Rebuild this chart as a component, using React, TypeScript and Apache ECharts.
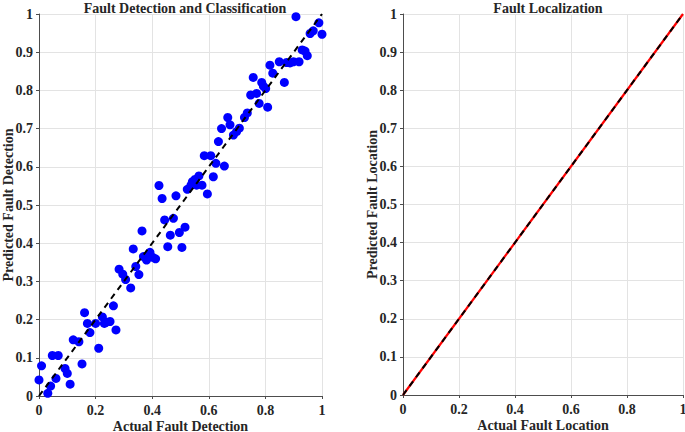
import React, { useEffect, useRef } from "react";
import * as echarts from "echarts";

const detectionActual = [
  0.908, 0.989, 1.0, 0.969, 0.958, 0.93, 0.94, 0.948, 0.919, 0.899, 0.887, 0.875, 0.849, 0.816, 0.826, 0.867,
  0.787, 0.793, 0.801, 0.757, 0.769, 0.748, 0.778, 0.808, 0.736, 0.726, 0.667, 0.645, 0.675, 0.708, 0.698,
  0.687, 0.634, 0.584, 0.607, 0.625, 0.655, 0.616, 0.595, 0.576, 0.565, 0.551, 0.542, 0.537, 0.524, 0.557,
  0.424, 0.435, 0.484, 0.444, 0.475, 0.464, 0.496, 0.516, 0.505, 0.455, 0.364, 0.333, 0.369, 0.392, 0.38,
  0.412, 0.402, 0.342, 0.283, 0.296, 0.306, 0.324, 0.353, 0.263, 0.272, 0.251, 0.237, 0.224, 0.231, 0.211,
  0.2, 0.18, 0.171, 0.161, 0.141, 0.121, 0.152, 0.068, 0.047, 0.009, 0.0, 0.092, 0.1, 0.06, 0.11, 0.041, 0.031,
];
const detectionPredicted = [
  0.993, 0.977, 0.947, 0.956, 0.949, 0.906, 0.903, 0.891, 0.875, 0.875, 0.872, 0.873, 0.875, 0.866, 0.845, 0.821,
  0.821, 0.811, 0.805, 0.834, 0.792, 0.788, 0.766, 0.756, 0.741, 0.729, 0.729, 0.7, 0.71, 0.701, 0.692,
  0.683, 0.666, 0.629, 0.629, 0.609, 0.602, 0.574, 0.529, 0.552, 0.576, 0.567, 0.561, 0.552, 0.541, 0.552,
  0.551, 0.517, 0.524, 0.461, 0.465, 0.421, 0.428, 0.442, 0.389, 0.391, 0.432, 0.385, 0.365, 0.376, 0.356,
  0.359, 0.363, 0.339, 0.332, 0.319, 0.305, 0.283, 0.318, 0.236, 0.173, 0.195, 0.193, 0.207, 0.19, 0.125,
  0.19, 0.166, 0.19, 0.218, 0.142, 0.147, 0.084, 0.106, 0.106, 0.079, 0.042, 0.072, 0.059, 0.046, 0.031, 0.026, 0.007,
];
const idealLine = [
  [0, 0],
  [1, 1],
];
const locationActual = [0, 1];
const locationPredicted = [0, 1];

const titles = ["Fault Detection and Classification", "Fault Localization"];
const xNames = ["Actual Fault Detection", "Actual Fault Location"];
const yNames = ["Predicted Fault Detection", "Predicted Fault Location"];

const FONT = "Liberation Serif";

export default function App() {
  const ref = useRef<HTMLDivElement>(null);
  useEffect(() => {
    if (!ref.current) return;
    const chart = echarts.init(ref.current, null, { renderer: "svg" });
    const labelStyle = {
      color: "#262626",
      fontFamily: FONT,
      fontWeight: "bold" as const,
      fontSize: 14,
    };
    const nameStyle = {
      color: "#262626",
      fontFamily: FONT,
      fontWeight: "bold" as const,
      fontSize: 14,
      lineHeight: 14,
    };
    const axisLine = { show: true, lineStyle: { color: "#4d4d4d", width: 1 } };
    const axisTick = { show: true, inside: false, length: 3, lineStyle: { color: "#4d4d4d", width: 1 } };
    const splitLine = { show: true, lineStyle: { color: "#e3e3e3", width: 1 } };
    const fmt = (v: number) => String(Math.round(v * 10) / 10);
    const makeX = (i: number) => ({
      type: "value",
      gridIndex: i,
      min: 0,
      max: 1,
      interval: 0.2,
      name: xNames[i],
      nameLocation: "middle",
      nameGap: 23,
      nameMoveOverlap: false,
      nameTextStyle: nameStyle,
      axisLine,
      axisTick,
      splitLine,
      axisLabel: { ...labelStyle, margin: 7, formatter: fmt },
    });
    const makeY = (i: number) => ({
      type: "value",
      gridIndex: i,
      min: 0,
      max: 1,
      interval: 0.1,
      name: yNames[i],
      nameLocation: "middle",
      nameGap: 24,
      nameMoveOverlap: false,
      nameTextStyle: nameStyle,
      axisLine,
      axisTick,
      splitLine,
      axisLabel: { ...labelStyle, margin: 6, formatter: fmt },
    });
    chart.setOption({
      animation: false,
      backgroundColor: "#ffffff",
      title: [
        {
          text: titles[0],
          left: 180,
          textAlign: "center",
          top: -4,
          textStyle: { ...nameStyle },
        },
        {
          text: titles[1],
          left: 543,
          textAlign: "center",
          top: -4,
          textStyle: { ...nameStyle },
        },
      ],
      grid: [
        { left: 39, right: 363, top: 14, bottom: 36, outerBoundsMode: "none", containLabel: false },
        { left: 403, right: 2, top: 14, bottom: 37, outerBoundsMode: "none", containLabel: false },
      ],
      xAxis: [makeX(0), makeX(1)],
      yAxis: [makeY(0), makeY(1)],
      series: [
        {
          type: "scatter",
          xAxisIndex: 0,
          yAxisIndex: 0,
          symbolSize: 9,
          itemStyle: { color: "#0000ff", opacity: 1 },
          data: detectionActual.map((x, i) => [x, detectionPredicted[i]]),
          z: 2,
        },
        {
          type: "line",
          xAxisIndex: 0,
          yAxisIndex: 0,
          data: idealLine,
          showSymbol: false,
          lineStyle: { color: "#000000", width: 2, type: [6, 5] },
          z: 3,
        },
        {
          type: "line",
          xAxisIndex: 1,
          yAxisIndex: 1,
          data: locationActual.map((x, i) => [x, locationPredicted[i]]),
          showSymbol: false,
          lineStyle: { color: "#ff0000", width: 2.2 },
          z: 2,
        },
        {
          type: "line",
          xAxisIndex: 1,
          yAxisIndex: 1,
          data: idealLine,
          showSymbol: false,
          lineStyle: { color: "#000000", width: 2, type: [6, 5] },
          z: 3,
        },
      ],
    });
    return () => chart.dispose();
  }, []);
  return <div ref={ref} style={{ width: 685, height: 432, position: "absolute", left: 0, top: 0 }} />;
}
